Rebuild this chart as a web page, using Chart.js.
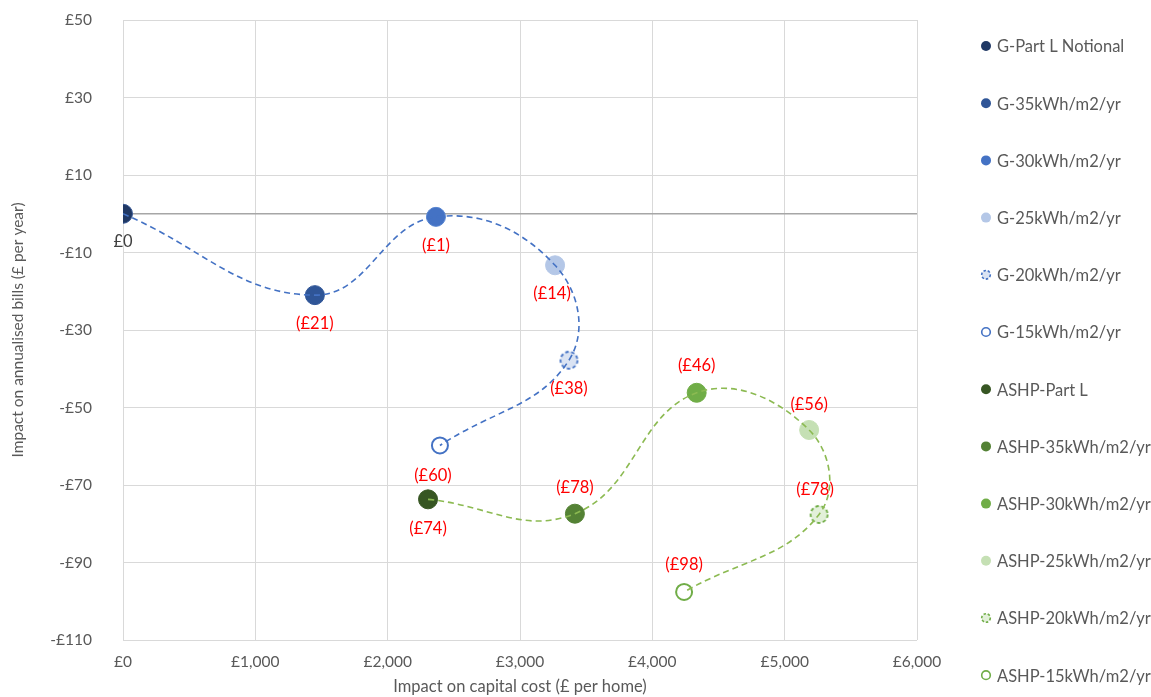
<!DOCTYPE html>
<html>
<head>
<meta charset="utf-8">
<script src="https://cdn.jsdelivr.net/npm/chart.js@4"></script>
<style>
  html, body { margin: 0; padding: 0; background: #fff; }
  #wrap { width: 1151px; height: 697px; position: relative; }
</style>
</head>
<body>
<div id="wrap"><canvas id="grafico"></canvas></div>
<script>
// values
var seriesNames = ['G-Part L Notional', 'G-35kWh/m2/yr', 'G-30kWh/m2/yr', 'G-25kWh/m2/yr', 'G-20kWh/m2/yr', 'G-15kWh/m2/yr',
                   'ASHP-Part L', 'ASHP-35kWh/m2/yr', 'ASHP-30kWh/m2/yr', 'ASHP-25kWh/m2/yr', 'ASHP-20kWh/m2/yr', 'ASHP-15kWh/m2/yr'];
var capitalCost = [0, 1450, 2365, 3265, 3370, 2395, 2305, 3415, 4335, 5185, 5260, 4240];
var annualBills = [0, -21, -0.8, -13.3, -37.8, -59.8, -73.7, -77.4, -46.2, -55.8, -77.6, -97.6];
var valueLabels = ['£0', '(£21)', '(£1)', '(£14)', '(£38)', '(£60)', '(£74)', '(£78)', '(£46)', '(£56)', '(£78)', '(£98)'];
var gasSeries = [0, 1, 2, 3, 4, 5];
var ashpSeries = [6, 7, 8, 9, 10, 11];
var yTicks = [50, 30, 10, -10, -30, -50, -70, -90, -110];
var xTicks = [0, 1000, 2000, 3000, 4000, 5000, 6000];

// styles
var fillColors = ['#203864', '#2f5597', '#4472c4', '#b4c7e7', '#dae3f3', '#ffffff',
                  '#375623', '#548235', '#70ad47', '#c5e0b4', '#e2f0d9', '#ffffff'];
var edgeColors = ['#3a5a96', '#2f5597', '#5583d0', '#b4c7e7', '#4472c4', '#4472c4',
                  '#375623', '#548235', '#70ad47', '#c5e0b4', '#70ad47', '#70ad47'];
var markerKind = ['solid', 'solid', 'solid', 'solid', 'dashed', 'open',
                  'solid', 'solid', 'solid', 'solid', 'dashed', 'open'];
var labelDx = [0, 0, 0, -3, 0, -7, 0, 0, 0, 0, -4, 0];
var labelDy = [28, 29, 29, 28, 28, 30, 29, -26, -27, -25, -25, -27];
var fontFamily = 'Lato, "Open Sans", sans-serif';

function dashedMarker(r, fill, edge, lw) {
    var c = document.createElement('canvas');
    var s = Math.ceil(2 * r + lw + 2);
    c.width = s; c.height = s;
    var g = c.getContext('2d');
    g.beginPath();
    g.arc(s / 2, s / 2, r, 0, Math.PI * 2);
    g.fillStyle = fill;
    g.fill();
    g.setLineDash([3.5, 2.5]);
    g.lineWidth = lw;
    g.strokeStyle = edge;
    g.stroke();
    return c;
}

var datasets = [];

function curve(idx, color) {
    var pts = [];
    for (var k = 0; k < idx.length; k++) {
        pts.push({x: capitalCost[idx[k]], y: annualBills[idx[k]]});
    }
    return {
        label: '_curve',
        data: pts,
        showLine: true,
        borderColor: color,
        borderWidth: 1.6,
        borderDash: [6, 4],
        pointRadius: 0,
        pointHoverRadius: 0,
        tension: 0.42,
        order: 0
    };
}
datasets.push(curve(gasSeries, '#4472c4'));
datasets.push(curve(ashpSeries, '#8cba52'));

for (var i = 0; i < seriesNames.length; i++) {
    var ds = {
        label: seriesNames[i],
        data: [{x: capitalCost[i], y: annualBills[i]}],
        backgroundColor: fillColors[i],
        borderColor: edgeColors[i],
        pointRadius: 9.5,
        pointHoverRadius: 9.5,
        borderWidth: 1,
        order: 1
    };
    if (markerKind[i] == 'open') {
        ds.pointRadius = 8;
        ds.pointHoverRadius = 8;
        ds.borderWidth = 2;
    }
    if (markerKind[i] == 'dashed') {
        ds.pointStyle = dashedMarker(8.5, fillColors[i], edgeColors[i], 1.8);
    }
    datasets.push(ds);
}

// zero line of the value axis
datasets.push({
    label: '_zero',
    data: [{x: 0, y: 0}, {x: 6000, y: 0}],
    showLine: true,
    borderColor: '#a6a6a6',
    borderWidth: 1.3,
    pointRadius: 0,
    pointHoverRadius: 0,
    order: 2
});

var pointLabels = {
    id: 'pointLabels',
    afterDatasetsDraw: function (chart) {
        var ctx = chart.ctx;
        ctx.save();
        ctx.font = '16.5px ' + fontFamily;
        ctx.textAlign = 'center';
        ctx.textBaseline = 'middle';
        for (var i = 0; i < seriesNames.length; i++) {
            var el = chart.getDatasetMeta(i + 2).data[0];
            ctx.fillStyle = i == 0 ? '#404040' : '#ff0000';
            ctx.fillText(valueLabels[i], el.x + labelDx[i], el.y + labelDy[i]);
        }
        ctx.restore();
    }
};

var sideLegend = {
    id: 'sideLegend',
    afterDraw: function (chart) {
        var ctx = chart.ctx;
        ctx.save();
        ctx.font = '16.5px ' + fontFamily;
        ctx.textBaseline = 'middle';
        ctx.textAlign = 'left';
        for (var i = 0; i < seriesNames.length; i++) {
            var cy = 46 + i * 57.2;
            var cx = 986;
            ctx.beginPath();
            ctx.arc(cx, cy, markerKind[i] == 'solid' ? 5 : 4.3, 0, Math.PI * 2);
            ctx.fillStyle = fillColors[i];
            ctx.fill();
            if (markerKind[i] != 'solid') {
                ctx.lineWidth = 1.6;
                ctx.strokeStyle = edgeColors[i];
                ctx.setLineDash(markerKind[i] == 'dashed' ? [2.5, 1.8] : []);
                ctx.stroke();
                ctx.setLineDash([]);
            }
            ctx.fillStyle = '#595959';
            ctx.fillText(seriesNames[i], 997, cy + 1);
        }
        ctx.restore();
    }
};

function money(v) {
    var s = '£' + Math.abs(v).toLocaleString('en-GB');
    return v < 0 ? '-' + s : s;
}

var ctx = document.getElementById('grafico');
var chart = new Chart(ctx, {
    type: 'scatter',
    data: {datasets: datasets},
    options: {
        responsive: true,
        maintainAspectRatio: false,
        animation: false,
        layout: {padding: {top: 20, right: 234, left: 0, bottom: 0}},
        plugins: {
            legend: {display: false},
            tooltip: {enabled: false}
        },
        scales: {
            x: {
                type: 'linear',
                min: 0,
                max: 6000,
                afterBuildTicks: function (axis) {
                    axis.ticks = xTicks.map(function (v) { return {value: v}; });
                },
                grid: {color: '#d9d9d9', drawTicks: false},
                border: {display: false},
                ticks: {
                    color: '#595959',
                    padding: 13,
                    maxRotation: 0,
                    font: {family: fontFamily, size: 15.5},
                    callback: function (v) { return money(v); }
                },
                title: {
                    display: true,
                    text: 'Impact on capital cost (£ per home)',
                    color: '#595959',
                    padding: {top: 4, bottom: 0},
                    font: {family: fontFamily, size: 16.5}
                },
                afterFit: function (axis) { axis.height = 57; }
            },
            y: {
                type: 'linear',
                min: -110,
                max: 50,
                afterBuildTicks: function (axis) {
                    axis.ticks = yTicks.map(function (v) { return {value: v}; });
                },
                grid: {color: '#d9d9d9', drawTicks: false},
                border: {display: false},
                ticks: {
                    color: '#595959',
                    padding: 31,
                    font: {family: fontFamily, size: 15.5},
                    callback: function (v) { return money(v); }
                },
                title: {
                    display: true,
                    text: 'Impact on annualised bills (£ per year)',
                    color: '#595959',
                    padding: {top: 9, bottom: 0},
                    font: {family: fontFamily, size: 15.5}
                },
                afterFit: function (axis) {
                    axis.width = 123;
                    axis.paddingTop = 0;
                    axis.paddingBottom = 0;
                }
            }
        }
    },
    plugins: [pointLabels, sideLegend]
});
</script>
</body>
</html>
